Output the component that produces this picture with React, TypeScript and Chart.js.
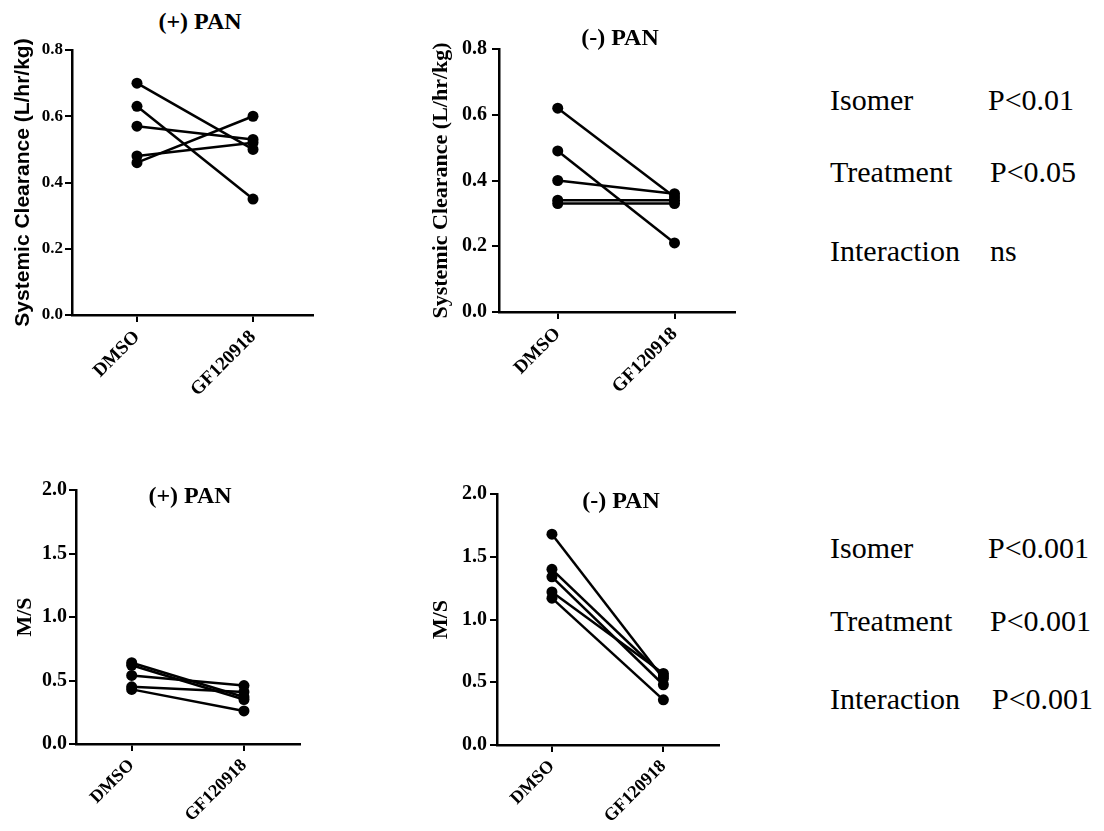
import React, { useEffect, useRef } from "react";
import { Chart, registerables } from "chart.js";

Chart.register(...registerables);

// ---------- data ----------
const categories = ["DMSO", "GF120918"];

// Systemic clearance (L/hr/kg)
const clPlusDMSO = [0.70, 0.63, 0.57, 0.48, 0.46];
const clPlusGF = [0.50, 0.35, 0.53, 0.52, 0.60];
const clMinusDMSO = [0.62, 0.49, 0.40, 0.34, 0.33];
const clMinusGF = [0.35, 0.21, 0.36, 0.34, 0.33];

// M/S
const msPlusDMSO = [0.64, 0.62, 0.54, 0.45, 0.43];
const msPlusGF = [0.37, 0.35, 0.46, 0.41, 0.26];
const msMinusDMSO = [1.68, 1.40, 1.34, 1.22, 1.17];
const msMinusGF = [0.53, 0.55, 0.48, 0.57, 0.36];

const clTicks = [0.0, 0.2, 0.4, 0.6, 0.8];
const msTicks = [0.0, 0.5, 1.0, 1.5, 2.0];

const statLabels = ["Isomer", "Treatment", "Interaction"];
const clStats = ["P<0.01", "P<0.05", "ns"];
const msStats = ["P<0.001", "P<0.001", "P<0.001"];

const titles = ["(+) PAN", "(-) PAN", "(+) PAN", "(-) PAN"];
const yTitles = ["Systemic Clearance (L/hr/kg)", "Systemic Clearance (L/hr/kg)", "M/S", "M/S"];

const SERIF = "'Liberation Serif', Tinos, 'Times New Roman', Times, 'Nimbus Roman', 'DejaVu Serif', serif";
const SANS = "'Liberation Sans', Arial, sans-serif";

type PanelCfg = {
  before: number[];
  after: number[];
  yTicks: number[];
  yTitle: string;
  yTitleFamily: string;
  yTitleSize: number;
  yTitlePad: number;
  tickSize: number;
  xTickSize: number;
  yTickPad: number;
  left: number;
  top: number;
  width: number;
  height: number;
  yw: number;
  xMin: number;
  xMax: number;
};

const PT = 14;
const PR = 10;
const XH = 90;

const panels: PanelCfg[] = [
  {
    before: clPlusDMSO, after: clPlusGF, yTicks: clTicks, yTitle: yTitles[0],
    yTitleFamily: SANS, yTitleSize: 21, yTitlePad: 11, tickSize: 17, xTickSize: 19, yTickPad: 2,
    left: 0, top: 50 - PT, width: 72 + 241 + PR, height: PT + 265 + XH, yw: 72, xMin: -0.56, xMax: 1.517,
  },
  {
    before: clMinusDMSO, after: clMinusGF, yTicks: clTicks, yTitle: yTitles[1],
    yTitleFamily: SERIF, yTitleSize: 22, yTitlePad: 4.5, tickSize: 20, xTickSize: 19, yTickPad: 5,
    left: 424, top: 46 - PT, width: 75 + 236 + PR, height: PT + 266 + XH, yw: 75, xMin: -0.503, xMax: 1.518,
  },
  {
    before: msPlusDMSO, after: msPlusGF, yTicks: msTicks, yTitle: yTitles[2],
    yTitleFamily: SERIF, yTitleSize: 22, yTitlePad: 5.8, tickSize: 20, xTickSize: 18, yTickPad: 2,
    left: 6, top: 490 - PT, width: 70 + 224 + PR, height: PT + 254 + XH, yw: 70, xMin: -0.496, xMax: 1.499,
  },
  {
    before: msMinusDMSO, after: msMinusGF, yTicks: msTicks, yTitle: yTitles[3],
    yTitleFamily: SERIF, yTitleSize: 22, yTitlePad: 1.5, tickSize: 20, xTickSize: 18, yTickPad: 3,
    left: 427, top: 493 - PT, width: 70 + 222 + PR, height: PT + 252 + XH, yw: 70, xMin: -0.493, xMax: 1.499,
  },
];

const titlePos = [
  { cx: 200, cy: 21 },
  { cx: 620, cy: 37 },
  { cx: 190, cy: 495 },
  { cx: 621, cy: 500 },
];

const statBlocks = [
  { values: clStats, rows: [100, 172, 251], valueX: [988, 990, 990] },
  { values: msStats, rows: [548, 621, 699], valueX: [988, 990, 992] },
];

function Panel({ cfg }: { cfg: PanelCfg }) {
  const ref = useRef<HTMLCanvasElement | null>(null);
  useEffect(() => {
    if (!ref.current) return;
    const datasets = cfg.before.map((b, i) => ({
      label: "S" + (i + 1),
      data: [
        { x: 0, y: b },
        { x: 1, y: cfg.after[i] },
      ],
      borderColor: "#000",
      backgroundColor: "#000",
      borderWidth: 2.5,
      pointRadius: 5.5,
      pointBorderWidth: 0,
      pointBackgroundColor: "#000",
      clip: false as any,
    }));
    const chart = new Chart(ref.current, {
      type: "line",
      data: { datasets },
      options: {
        responsive: false,
        animation: false,
        layout: { padding: { top: PT, right: PR, left: 0, bottom: 0 } },
        plugins: { legend: { display: false }, tooltip: { enabled: false }, title: { display: false } },
        scales: {
          x: {
            type: "linear",
            min: cfg.xMin,
            max: cfg.xMax,
            afterBuildTicks: (axis: any) => {
              axis.ticks = categories.map((_, i) => ({ value: i }));
            },
            afterFit: (axis: any) => {
              axis.height = XH;
            },
            ticks: {
              callback: (_v: any, i: number) => categories[i],
              minRotation: 45,
              maxRotation: 45,
              autoSkip: false,
              color: "#000",
              padding: 4,
              font: { family: SERIF, size: cfg.xTickSize, weight: "bold" },
            },
            grid: {
              display: true,
              drawOnChartArea: false,
              drawTicks: true,
              tickLength: 7,
              color: "#000",
              lineWidth: 2,
            },
            border: { display: true, color: "#000", width: 2.5 },
          },
          y: {
            type: "linear",
            min: cfg.yTicks[0],
            max: cfg.yTicks[cfg.yTicks.length - 1],
            afterBuildTicks: (axis: any) => {
              axis.ticks = cfg.yTicks.map((v) => ({ value: v }));
            },
            afterFit: (axis: any) => {
              axis.width = cfg.yw;
            },
            ticks: {
              callback: (v: any) => Number(v).toFixed(1),
              color: "#000",
              padding: cfg.yTickPad,
              font: { family: SERIF, size: cfg.tickSize, weight: "bold" },
            },
            grid: {
              display: true,
              drawOnChartArea: false,
              drawTicks: true,
              tickLength: 7,
              color: "#000",
              lineWidth: 2,
            },
            border: { display: true, color: "#000", width: 2.5 },
            title: {
              display: true,
              text: cfg.yTitle,
              color: "#000",
              padding: { top: cfg.yTitlePad, bottom: 0 },
              font: { family: cfg.yTitleFamily, size: cfg.yTitleSize, weight: "bold" },
            },
          },
        },
      } as any,
    });
    return () => chart.destroy();
  }, [cfg]);
  return (
    <canvas
      ref={ref}
      width={cfg.width}
      height={cfg.height}
      style={{ position: "absolute", left: cfg.left, top: cfg.top, width: cfg.width, height: cfg.height }}
    />
  );
}

export default function App() {
  const titleSize = 24;
  const statSize = 30;
  return (
    <div
      style={{
        position: "absolute",
        left: 0,
        top: 0,
        width: 1104,
        height: 831,
        background: "#fff",
        overflow: "hidden",
      }}
    >
      {panels.map((p, i) => (
        <Panel key={i} cfg={p} />
      ))}
      {titles.map((t, i) => (
        <div
          key={"t" + i}
          style={{
            position: "absolute",
            left: titlePos[i].cx,
            top: titlePos[i].cy - titleSize / 2,
            transform: "translateX(-50%)",
            fontFamily: SERIF,
            fontWeight: "bold",
            fontSize: titleSize,
            lineHeight: 1,
            whiteSpace: "nowrap",
            color: "#000",
          }}
        >
          {t}
        </div>
      ))}
      {statBlocks.map((b, bi) =>
        statLabels.map((lab, ri) => (
          <React.Fragment key={"s" + bi + "-" + ri}>
            <div
              style={{
                position: "absolute",
                left: 830,
                top: b.rows[ri] - statSize / 2,
                fontFamily: SERIF,
                fontSize: statSize,
                lineHeight: 1,
                whiteSpace: "nowrap",
                color: "#000",
              }}
            >
              {lab}
            </div>
            <div
              style={{
                position: "absolute",
                left: b.valueX[ri],
                top: b.rows[ri] - statSize / 2,
                fontFamily: SERIF,
                fontSize: statSize,
                lineHeight: 1,
                whiteSpace: "nowrap",
                color: "#000",
              }}
            >
              {b.values[ri]}
            </div>
          </React.Fragment>
        ))
      )}
    </div>
  );
}
